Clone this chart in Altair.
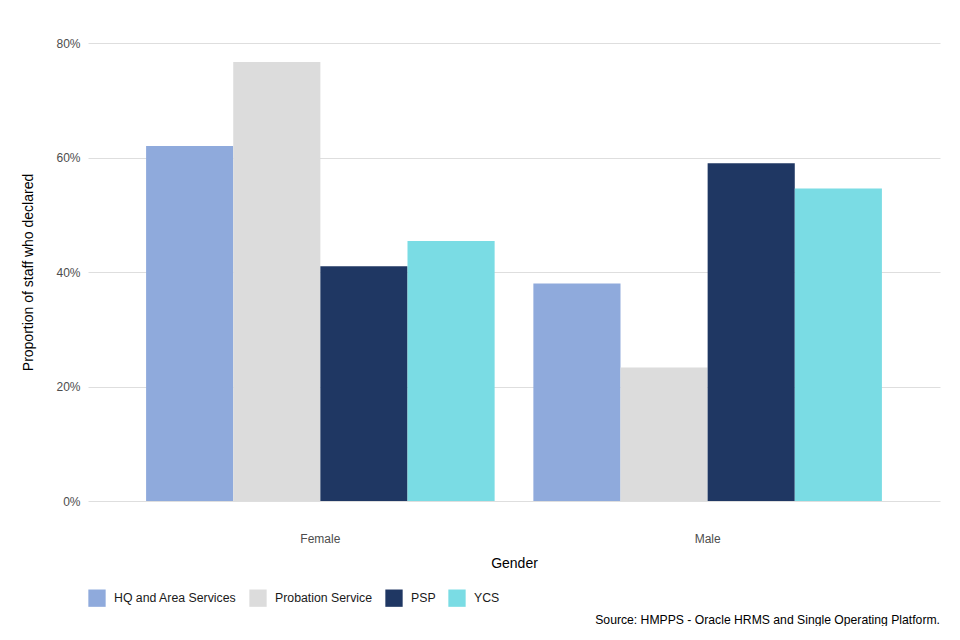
import altair as alt
import pandas as pd

genders = ["Female", "Male"]
services = ["HQ and Area Services", "Probation Service", "PSP", "YCS"]
female_values = [0.620, 0.767, 0.410, 0.454]
male_values = [0.380, 0.233, 0.590, 0.546]
colors = ["#8FAADC", "#DCDCDC", "#1F3763", "#7ADCE4"]
caption = "Source: HMPPS - Oracle HRMS and Single Operating Platform."

rows = []
for s, v in zip(services, female_values):
    rows.append({"Gender": "Female", "Service": s, "Value": v})
for s, v in zip(services, male_values):
    rows.append({"Gender": "Male", "Service": s, "Value": v})
df = pd.DataFrame(rows)

FONT = "Liberation Sans"

bars = alt.Chart(df).mark_bar().encode(
    x=alt.X("Gender:N", sort=genders,
            scale=alt.Scale(paddingInner=0.1, paddingOuter=0.15),
            axis=alt.Axis(title="Gender", labelAngle=0, grid=False, domain=False,
                          ticks=False, labelPadding=32, labelFontSize=12,
                          labelColor="#4D4D4D", titleFontSize=14,
                          titleColor="#000000", titlePadding=12,
                          titleFontWeight="normal")),
    xOffset=alt.XOffset("Service:N", sort=services,
                        scale=alt.Scale(paddingInner=0, paddingOuter=0)),
    y=alt.Y("Value:Q", scale=alt.Scale(domain=[0, 0.8], nice=False),
            axis=alt.Axis(title="Proportion of staff who declared", format=".0%",
                          values=[0, 0.2, 0.4, 0.6, 0.8], domain=False,
                          ticks=False, labelPadding=8, labelFontSize=12,
                          labelColor="#4D4D4D", gridColor="#DEDEDE",
                          gridWidth=1, titleFontSize=14, titleColor="#000000",
                          titlePadding=20, titleFontWeight="normal")),
    color=alt.Color("Service:N", sort=services,
                    scale=alt.Scale(domain=services, range=colors),
                    legend=alt.Legend(title=None, orient="none", direction="horizontal",
                                      legendX=0, legendY=546, symbolType="square",
                                      symbolSize=300, symbolStrokeWidth=0,
                                      labelFontSize=12.3, labelColor="#1A1A1A",
                                      columnPadding=12, labelOffset=8)),
)

cap = alt.Chart(pd.DataFrame({"t": [caption]})).mark_text(
    align="right", baseline="middle", fontSize=12.2, font=FONT, color="#000000"
).encode(x=alt.value(852), y=alt.value(577), text="t:N")

chart = alt.layer(bars, cap).properties(
    width=852, height=458,
    autosize=alt.AutoSizeParams(type="none"),
    padding={"left": 80, "top": 35, "right": 12, "bottom": 125},
).configure(font=FONT).configure_view(stroke=None)

chart.save("out.html", embed_options={"renderer": "svg", "actions": False})
